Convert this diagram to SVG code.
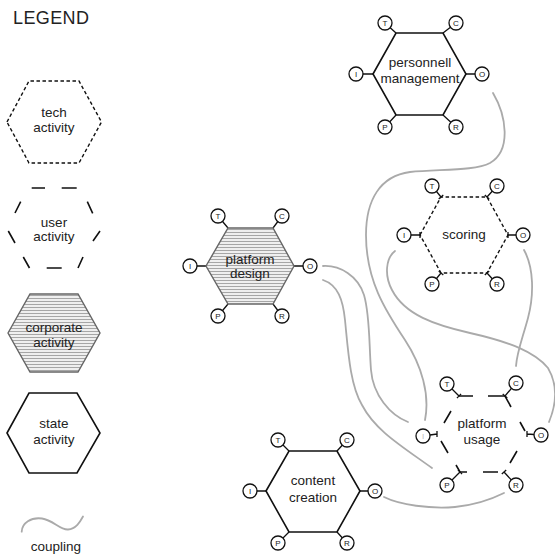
<svg xmlns="http://www.w3.org/2000/svg" width="555" height="555" viewBox="0 0 555 555">
<defs>
<pattern id="hatch" patternUnits="userSpaceOnUse" width="6" height="3">
<rect width="6" height="3" fill="#efefef"/>
<rect y="1" width="6" height="1" fill="#a6a6a6"/>
</pattern>
</defs>
<style>
text{font-family:"Liberation Sans",Arial,sans-serif;fill:#222}
.lbl{font-size:13.5px;text-anchor:middle}
.pin{font-size:8px;text-anchor:middle}
.solid{fill:#fff;stroke:#111;stroke-width:1.6;stroke-linejoin:miter}
.corp{fill:url(#hatch);stroke:#666;stroke-width:1.4}
.tech{fill:none;stroke:#111;stroke-width:1.4;stroke-dasharray:3.5 2.5}
.user{fill:none;stroke:#111;stroke-width:1.6}
.cl{stroke:#111;stroke-width:1.3;fill:none}
.pc{fill:#fff;stroke:#111;stroke-width:1.3}
.cpl{fill:none;stroke:#aaa;stroke-width:1.8;stroke-linecap:round}
</style>
<rect width="555" height="555" fill="#fff"/>

<!-- legend -->
<g id="legend">
<text x="13" y="24" style="font-size:18px;letter-spacing:0.4px">LEGEND</text>
<g id="legend-tech">
<polygon class="tech" points="7,122 29,81 79,81 101.5,122 79,163 29,163"/>
<text class="lbl" x="54" y="117">tech</text>
<text class="lbl" x="54" y="132">activity</text>
</g>
<g id="legend-user">
<path class="user" d="M31.7,188H45M61.7,188H76.7M15,213L20.7,201.7M87.3,201.7L92.7,213.3M8.3,231L15,243M93,241L100,231M23.3,257L29.5,268M46.7,268H61.7M78,268L83,257"/>
<text class="lbl" x="54" y="226.5">user</text>
<text class="lbl" x="54" y="241">activity</text>
</g>
<g id="legend-corporate">
<polygon class="corp" points="8,333 30,294 78,294 100,333 78,372 30,372"/>
<text class="lbl" x="54" y="332">corporate</text>
<text class="lbl" x="54" y="347">activity</text>
</g>
<g id="legend-state">
<polygon class="solid" points="7,433 29,393 77,393 100,433 77,473 29,473"/>
<text class="lbl" x="54" y="428">state</text>
<text class="lbl" x="54" y="443.5">activity</text>
</g>
<g id="legend-coupling">
<path class="cpl" d="M21.7,531.7C22,523 31,517 42,518.5S60,530 68,529.5S80,522 83,516.5"/>
<text class="lbl" x="56" y="551">coupling</text>
</g>
</g>

<!-- couplings -->
<g id="connectors">
<path class="cpl" d="M493,93C506,115 512,150 490,163C475,171 440,169 410,172C380,176 366,200 366,235C366,280 385,310 405,340C422,366 430,395 425,420"/>
<path class="cpl" d="M395,251C386,258 384,275 392,290C405,315 435,325 470,333C510,342 535,352 548,368C558,385 556,405 549,422"/>
<path class="cpl" d="M524,250C534,268 534,295 528,318C522,340 517,352 516,366"/>
<path class="cpl" d="M323,266C340,265 358,276 364,295C370,315 369,345 371,370C373,395 390,415 408,422"/>
<path class="cpl" d="M323,280C338,285 343,300 345,320C348,350 350,385 362,405C375,430 400,445 432,468"/>
<path class="cpl" d="M384,497C400,505 430,509 455,507C475,505 492,499 504,493"/>
</g>

<!-- personnell management -->
<g id="personnell-management">
<path class="cl" d="M385,23L396,33M456,23L443,33M356,74H373M482,74H466M385,127L396,115M456,127L443,115"/>
<polygon class="solid" points="373,74 396,33 443,33 466,74 443,115 396,115"/>
<circle class="pc" cx="385" cy="23" r="7"/><text class="pin" x="385" y="26">T</text>
<circle class="pc" cx="456" cy="23" r="7"/><text class="pin" x="456" y="26">C</text>
<circle class="pc" cx="356" cy="74" r="7"/><text class="pin" x="356" y="77">I</text>
<circle class="pc" cx="482" cy="74" r="7"/><text class="pin" x="482" y="77">O</text>
<circle class="pc" cx="385" cy="127" r="7"/><text class="pin" x="385" y="130">P</text>
<circle class="pc" cx="456" cy="127" r="7"/><text class="pin" x="456" y="130">R</text>
<text class="lbl" x="420" y="66.5">personnell</text>
<text class="lbl" x="420" y="82.5">management</text>
</g>

<!-- scoring -->
<g id="scoring">
<polygon class="tech" points="420,235 441,197 487,197 508,235 487,273 441,273"/>
<path class="cl" d="M432,186L441,197M438.7,198.9L443.3,195.1M497,186L487,197M484.8,195L489.2,199M404,235H420M420,232V238M523,235H508M508,232V238M432,284L441,273M438.7,271.1L443.3,274.9M497,284L487,273M484.8,275L489.2,271"/>
<circle class="pc" cx="432" cy="186" r="7"/><text class="pin" x="432" y="189">T</text>
<circle class="pc" cx="497" cy="186" r="7"/><text class="pin" x="497" y="189">C</text>
<circle class="pc" cx="404" cy="235" r="7"/><text class="pin" x="404" y="238">I</text>
<circle class="pc" cx="523" cy="235" r="7"/><text class="pin" x="523" y="238">O</text>
<circle class="pc" cx="432" cy="284" r="7"/><text class="pin" x="432" y="287">P</text>
<circle class="pc" cx="497" cy="284" r="7"/><text class="pin" x="497" y="287">R</text>
<text class="lbl" x="464" y="239">scoring</text>
</g>

<!-- platform design -->
<g id="platform-design">
<path class="cl" d="M218,216L228,228M282,216L273,228M190,266H206M310,266H294M218,316L228,304M282,316L273,304"/>
<polygon class="corp" points="206,266 228,228 273,228 294,266 273,304 228,304"/>
<circle class="pc" cx="218" cy="216" r="7"/><text class="pin" x="218" y="219">T</text>
<circle class="pc" cx="282" cy="216" r="7"/><text class="pin" x="282" y="219">C</text>
<circle class="pc" cx="190" cy="266" r="7"/><text class="pin" x="190" y="269">I</text>
<circle class="pc" cx="310" cy="266" r="7"/><text class="pin" x="310" y="269">O</text>
<circle class="pc" cx="218" cy="316" r="7"/><text class="pin" x="218" y="319">P</text>
<circle class="pc" cx="282" cy="316" r="7"/><text class="pin" x="282" y="319">R</text>
<text class="lbl" x="250" y="264">platform</text>
<text class="lbl" x="250" y="278">design</text>
</g>

<!-- platform usage -->
<g id="platform-usage">
<path class="user" d="M459,396H473M488,396H505L511,407M520,422L525,431M451,411L444,423M441,441L448,453M456,465L460,472H467M483,472H498M517,451L510,463"/>
<path class="cl" d="M447,384L459,396M456.9,398.1L461.1,393.9M516,383L505,396M502.7,394.1L507.3,397.9M423,436L437,434M437,431V437M541,435L527,434M527,431V437M447,485L460,472M457.9,469.9L462.1,474.1M516,485L504,472M501.8,474L506.2,470"/>
<circle class="pc" cx="447" cy="384" r="7"/><text class="pin" x="447" y="387">T</text>
<circle class="pc" cx="516" cy="383" r="7"/><text class="pin" x="516" y="386">C</text>
<circle class="pc" cx="423" cy="436" r="7"/><text class="pin" x="423" y="439" style="fill:#bbb">I</text>
<circle class="pc" cx="541" cy="435" r="7"/><text class="pin" x="541" y="438">O</text>
<circle class="pc" cx="447" cy="485" r="7"/><text class="pin" x="447" y="488">P</text>
<circle class="pc" cx="516" cy="485" r="7"/><text class="pin" x="516" y="488">R</text>
<text class="lbl" x="482" y="428">platform</text>
<text class="lbl" x="482" y="444">usage</text>
</g>

<!-- content creation -->
<g id="content-creation">
<path class="cl" d="M278,440L289,451M347,440L337,451M250,491H266M375,491H360M278,543L289,532M347,543L337,532"/>
<polygon class="solid" points="266,491 289,451 337,451 360,491 337,532 289,532"/>
<circle class="pc" cx="278" cy="440" r="7"/><text class="pin" x="278" y="443">T</text>
<circle class="pc" cx="347" cy="440" r="7"/><text class="pin" x="347" y="443">C</text>
<circle class="pc" cx="250" cy="491" r="7"/><text class="pin" x="250" y="494">I</text>
<circle class="pc" cx="375" cy="491" r="7"/><text class="pin" x="375" y="494">O</text>
<circle class="pc" cx="278" cy="543" r="7"/><text class="pin" x="278" y="546">P</text>
<circle class="pc" cx="347" cy="543" r="7"/><text class="pin" x="347" y="546">R</text>
<text class="lbl" x="313" y="485">content</text>
<text class="lbl" x="313" y="501.5">creation</text>
</g>
</svg>
